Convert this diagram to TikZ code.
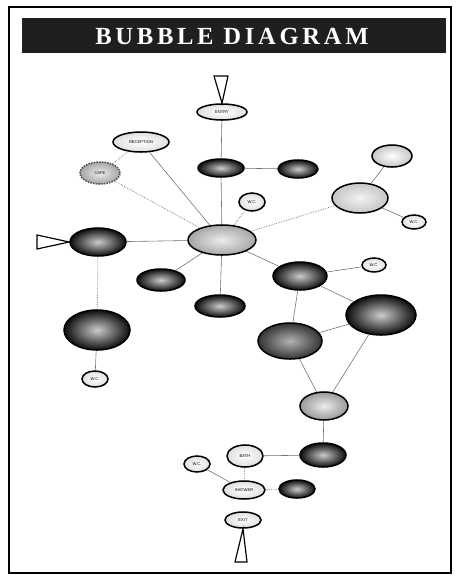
\documentclass[tikz,border=0pt]{standalone}
\usepackage{fontspec}
\setmainfont{Liberation Serif}
\setsansfont{Liberation Sans}
\usetikzlibrary{shapes,positioning,calc}

\tikzset{
    bub/.style 2 args={ellipse, draw=black, line width=1.3pt, inner sep=0pt,
        minimum width=#1*0.06cm, minimum height=#2*0.06cm,
        font=\sffamily\fontsize{3.5}{4}\selectfont},
    darkbub/.style={inner color=gray!40, outer color=black!95, text=white},
    midbub/.style={inner color=gray!15, outer color=gray!70},
    lightbub/.style={inner color=white, outer color=gray!25},
    link/.style={draw=black!55, line width=0.5pt},
    dlink/.style={link, densely dotted, line width=0.7pt},
    arrowtri/.style={draw=black, line width=1pt, fill=white}
}

\begin{document}
\begin{tikzpicture}[x=0.03cm, y=-0.03cm]
    \useasboundingbox (0,0) rectangle (456,577);
    % frame and title
    \draw [line width=1.2pt] (9,7) rectangle (451,573);
    \fill [black!88] (22,18) rectangle (446,53);
    \node (title) at (232,36) [text=white,
        font=\fontsize{21}{23}\selectfont\bfseries\addfontfeatures{LetterSpace=15}] {BUBBLE DIAGRAM};

    % bubbles
    \node (ent)   at (222,112) [bub={25}{8}, lightbub] {ENTRY};
    \node (hall)  at (221,168) [bub={23}{9}, darkbub] {};
    \node (off)   at (298,169) [bub={20}{9}, darkbub] {};
    \node (rec)   at (141,142) [bub={28}{10}, lightbub] {RECEPTION};
    \node (cafe)  at (100,173) [bub={20}{11}, midbub, densely dotted, draw=black!70] {CAFE};
    \node (wca)   at (252,202) [bub={13}{9}, lightbub] {W.C.};
    \node (main)  at (222,240) [bub={34}{15}, midbub] {};
    \node (grp)   at (392,156) [bub={20}{11}, lightbub, outer color=gray!45] {};
    \node (lnge)  at (360,198) [bub={28}{15}, lightbub, inner color=gray!10, outer color=gray!45] {};
    \node (wcb)   at (414,222) [bub={12}{7}, lightbub] {W.C.};
    \node (lft)   at (98,242)  [bub={28}{14}, darkbub] {};
    \node (sub)   at (161,280) [bub={24}{11}, darkbub] {};
    \node (low)   at (220,306) [bub={25}{11}, darkbub] {};
    \node (hlbig) at (97,330)  [bub={33}{20}, darkbub] {};
    \node (wcc)   at (95,379)  [bub={13}{8}, lightbub] {W.C.};
    \node (stf)   at (300,276) [bub={27}{14}, darkbub] {};
    \node (wcd)   at (374,265) [bub={12}{7}, lightbub] {W.C.};
    \node (srv)   at (381,315) [bub={35}{20}, darkbub] {};
    \node (kit)   at (290,341) [bub={32}{18}, darkbub, inner color=gray!60, outer color=black!80] {};
    \node (stor)  at (324,406) [bub={24}{14}, midbub, outer color=gray!80] {};
    \node (load)  at (323,455) [bub={23}{12}, darkbub] {};
    \node (bath)  at (245,456) [bub={18}{11}, lightbub] {BATH};
    \node (wce)   at (197,464) [bub={13}{8}, lightbub] {W.C.};
    \node (shw)   at (244,490) [bub={21}{9}, lightbub] {SHOWER};
    \node (lck)   at (297,489) [bub={18}{9}, darkbub] {};
    \node (ext)   at (243,520) [bub={18}{8}, lightbub] {EXIT};

    % entry arrows
    \draw [arrowtri] (214,76) -- (228,76) -- (ent.north) -- cycle;
    \draw [arrowtri] (37,235) -- (37,249) -- (lft.west) -- cycle;
    \draw [arrowtri] (ext.south) -- (247,562) -- (235,562) -- cycle;

    % links
    \draw [link] (ent) -- (hall);
    \draw [link] (hall) -- (off);
    \draw [link] (hall) -- (main);
    \draw [link] (rec) -- (main);
    \draw [dlink] (rec) -- (cafe);
    \draw [dlink] (cafe) -- (main);
    \draw [dlink] (wca) -- (main);
    \draw [dlink] (main) -- (lnge);
    \draw [link] (lnge) -- (grp);
    \draw [link] (lnge) -- (wcb);
    \draw [link] (main) -- (lft);
    \draw [dlink] (lft) -- (hlbig);
    \draw [link] (hlbig) -- (wcc);
    \draw [link] (main) -- (sub);
    \draw [link] (main) -- (low);
    \draw [link] (main) -- (stf);
    \draw [link] (stf) -- (wcd);
    \draw [link] (stf) -- (srv);
    \draw [link] (stf) -- (kit);
    \draw [link] (srv) -- (kit);
    \draw [link] (kit) -- (stor);
    \draw [link] (srv) -- (stor);
    \draw [link] (stor) -- (load);
    \draw [link] (load) -- (bath);
    \draw [dlink] (bath) -- (shw);
    \draw [link] (shw) -- (wce);
    \draw [dlink] (shw) -- (lck);
\end{tikzpicture}
\end{document}
